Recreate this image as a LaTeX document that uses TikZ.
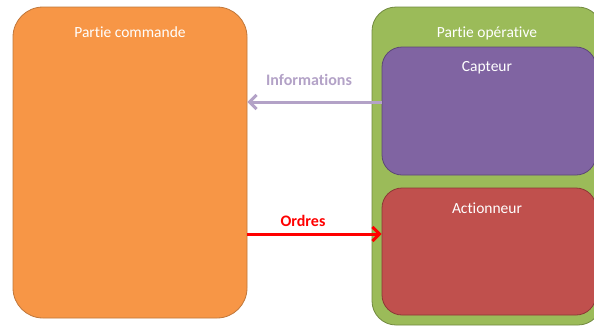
\documentclass[tikz,border=0pt]{standalone}
\usepackage{fontspec}
\setmainfont{Carlito}[Ligatures=NoCommon]
\usetikzlibrary{arrows.meta}
\definecolor{cOrange}{HTML}{F79646}
\definecolor{cOrangeB}{HTML}{C0773A}
\definecolor{cGreen}{HTML}{9BBB59}
\definecolor{cGreenB}{HTML}{71893F}
\definecolor{cPurple}{HTML}{8064A2}
\definecolor{cPurpleB}{HTML}{5C4776}
\definecolor{cRed}{HTML}{C0504D}
\definecolor{cRedB}{HTML}{8C3836}
\definecolor{cInfo}{HTML}{B3A2C7}
\tikzset{
  box/.style={draw, line width=0.8pt, rounded corners=#1, inner sep=0pt},
  box/.default=30pt,
  ttl/.style={text=white, font=\fontsize{15.5}{18}\selectfont, inner sep=0pt},
  alab/.style={font=\bfseries\fontsize{16}{19}\selectfont, inner sep=0pt},
  arr/.style={line width=3pt, -{Straight Barb[length=7pt,width=14pt,line width=3pt]}}
}
\begin{document}
\begin{tikzpicture}[x=1pt,y=-1pt]
\useasboundingbox (0,0) rectangle (594,327);
\clip (0,0) rectangle (594,327);
\fill[white] (0,0) rectangle (594,327);
% Partie commande
\node[box, fill=cOrange, draw=cOrangeB, minimum width=234pt, minimum height=311pt] (commande) at (130,162.5) {};
\node[ttl] (tcommande) at (130,32) {Partie commande};
% Partie operative
\node[box=24pt, fill=cGreen, draw=cGreenB, minimum width=230pt, minimum height=318pt] (operative) at (487,166) {};
\node[ttl] (toperative) at (487,33) {Partie opérative};
% Capteur
\node[box=20pt, fill=cPurple, draw=cPurpleB, minimum width=214pt, minimum height=128pt] (capteur) at (489,111) {};
\node[ttl] (tcapteur) at (487,68) {Capteur};
% Actionneur
\node[box=20pt, fill=cRed, draw=cRedB, minimum width=214pt, minimum height=127pt] (actionneur) at (489,251.5) {};
\node[ttl] (tactionneur) at (487,208) {Actionneur};
% Arrow anchor points
\coordinate (infoS) at ([yshift=9pt]capteur.west);
\coordinate (infoE) at (commande.east |- infoS);
\coordinate (ordE) at ([yshift=17.5pt]actionneur.west);
\coordinate (ordS) at (commande.east |- ordE);
% Arrows
\draw[arr, cInfo] (infoS) -- (infoE);
\node[alab, text=cInfo] (linfo) at (309,80) {Informations};
\draw[arr, red] (ordS) -- (ordE);
\node[alab, text=red] (lordres) at (303,221) {Ordres};
\end{tikzpicture}
\end{document}
